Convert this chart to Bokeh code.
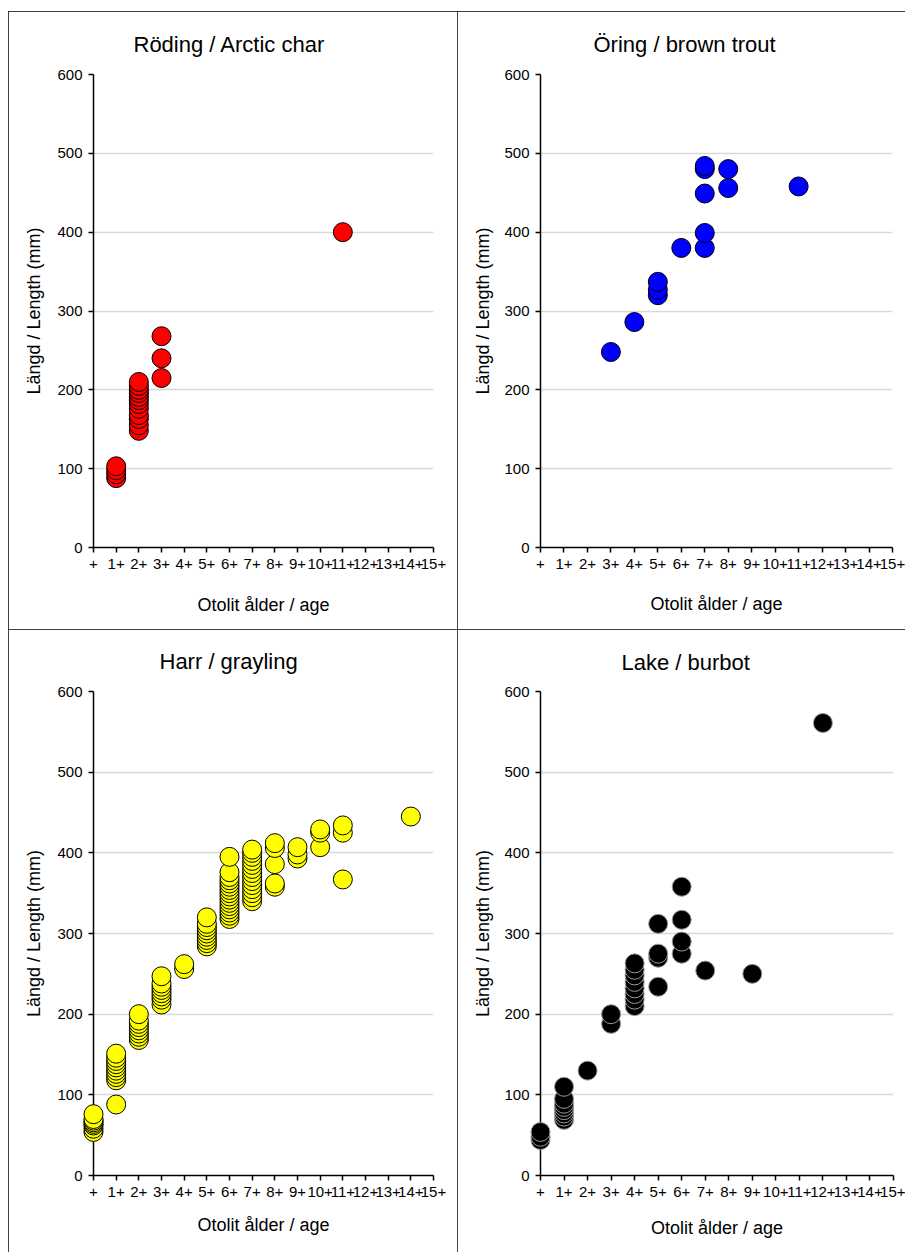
from bokeh.plotting import figure
from bokeh.layouts import column, row
from bokeh.models import Range1d, FixedTicker
from bokeh.embed import file_html
from bokeh.resources import INLINE

# ---------------- data ----------------
age_ticks = [0, 1, 2, 3, 4, 5, 6, 7, 8, 9, 10, 11, 12, 13, 14, 15]
age_tick_labels = ["+", "1+", "2+", "3+", "4+", "5+", "6+", "7+", "8+", "9+",
                   "10+", "11+", "12+", "13+", "14+", "15+"]
length_ticks = [0, 100, 200, 300, 400, 500, 600]

titles = ["Röding / Arctic char", "Öring / brown trout", "Harr / grayling", "Lake / burbot"]
x_label = "Otolit ålder / age"
y_label = "Längd / Length (mm)"

# Röding / Arctic char
char_age = [1, 1, 1, 1,
            2, 2, 2, 2, 2, 2, 2, 2, 2, 2, 2, 2,
            3, 3, 3,
            11]
char_len = [88, 93, 98, 103,
            148, 155, 163, 168, 176, 182, 187, 191, 196, 200, 205, 210,
            215, 240, 268,
            400]

# Öring / brown trout
trout_age = [3, 4, 5, 5, 5, 6, 7, 7, 7, 7, 7, 8, 8, 11]
trout_len = [248, 286, 320, 327, 337, 380, 380, 399, 449, 480, 484, 456, 480, 458]

# Harr / grayling
grayling_age = [0, 0, 0, 0, 0, 0, 0, 0,
                1, 1, 1, 1, 1, 1, 1, 1, 1, 1,
                2, 2, 2, 2, 2, 2, 2, 2,
                3, 3, 3, 3, 3, 3, 3, 3,
                4, 4,
                5, 5, 5, 5, 5, 5, 5, 5, 5,
                6, 6, 6, 6, 6, 6, 6, 6, 6, 6, 6, 6, 6, 6, 6, 6,
                7, 7, 7, 7, 7, 7, 7, 7, 7, 7, 7, 7, 7, 7,
                8, 8, 8, 8, 8,
                9, 9, 9,
                10, 10, 10,
                11, 11, 11,
                14]
grayling_len = [54, 58, 62, 64, 66, 68, 70, 76,
                88, 118, 122, 126, 130, 134, 138, 142, 146, 151,
                168, 172, 176, 180, 184, 188, 192, 200,
                212, 218, 222, 226, 230, 234, 238, 247,
                256, 262,
                284, 288, 292, 296, 300, 304, 308, 312, 320,
                318, 322, 326, 330, 334, 338, 342, 346, 350, 354, 358, 362, 366, 370, 376, 395,
                340, 345, 350, 355, 360, 365, 370, 375, 380, 385, 390, 395, 400, 404,
                358, 362, 386, 406, 412,
                393, 398, 407,
                407, 425, 429,
                367, 425, 434,
                445]

# Lake / burbot
burbot_age = [0, 0, 0,
              1, 1, 1, 1, 1, 1, 1, 1,
              2,
              3, 3,
              4, 4, 4, 4, 4, 4, 4, 4,
              5, 5, 5, 5,
              6, 6, 6, 6,
              7, 9, 12]
burbot_len = [44, 48, 54,
              69, 73, 77, 81, 85, 89, 95, 110,
              130,
              188, 200,
              210, 218, 225, 232, 240, 248, 255, 263,
              234, 270, 275, 312,
              275, 290, 317, 358,
              254, 250, 561]

FONT = "Liberation Sans"


def make_panel(title, ages, lengths, fill, line, width, height, borders,
               title_offset, title_standoff, xlab_standoff, ylab_standoff, margin):
    left, right, top, bottom = borders
    p = figure(width=width, height=height,
               x_range=Range1d(0, 15), y_range=Range1d(0, 600),
               output_backend="svg", toolbar_location=None,
               min_border_left=left, min_border_right=right,
               min_border_top=top, min_border_bottom=bottom)
    p.margin = margin
    p.styles = {"outline": "1px solid black", "outline-offset": "-1px"}
    p.background_fill_color = "white"
    p.border_fill_color = "white"
    p.outline_line_color = None

    p.title.text = title
    p.title.align = "left"
    p.title.vertical_align = "bottom"
    p.title.offset = title_offset
    p.title.standoff = title_standoff
    p.title.text_line_height = 0.8
    p.title.text_font = FONT
    p.title.text_font_style = "normal"
    p.title.text_font_size = "22px"
    p.title.text_color = "black"

    p.xaxis.ticker = FixedTicker(ticks=age_ticks)
    p.xaxis.major_label_overrides = {t: l for t, l in zip(age_ticks, age_tick_labels)}
    p.yaxis.ticker = FixedTicker(ticks=length_ticks)
    p.xaxis.axis_label = x_label
    p.yaxis.axis_label = y_label
    p.xaxis.axis_label_standoff = xlab_standoff
    p.yaxis.axis_label_standoff = ylab_standoff
    for ax in (p.xaxis, p.yaxis):
        ax.axis_label_text_font = FONT
        ax.axis_label_text_font_style = "normal"
        ax.axis_label_text_font_size = "18px"
        ax.axis_label_text_color = "black"
        ax.major_label_text_font = FONT
        ax.major_label_text_font_size = "15px"
        ax.major_label_text_color = "black"
        ax.major_label_standoff = 6
        ax.major_tick_out = 5
        ax.major_tick_in = 0
        ax.minor_tick_out = 0
        ax.minor_tick_in = 0
        ax.axis_line_color = "black"
        ax.axis_line_width = 1.5
        ax.major_tick_line_color = "black"
        ax.major_tick_line_width = 1.5

    p.xgrid.visible = False
    p.ygrid.grid_line_color = "#d9d9d9"
    p.ygrid.grid_line_width = 1.5

    p.scatter(ages, lengths, size=19, marker="circle",
              fill_color=fill, line_color=line, line_width=1, level="overlay")
    return p


p1 = make_panel(titles[0], char_age, char_len, "#ff0000", "black",
                449, 618, (85, 24, 60, 82), 40, 35, 23, 10, (11, 0, 0, 8))
p2 = make_panel(titles[1], trout_age, trout_len, "#0000ff", "black",
                448, 618, (83, 13, 62, 81), 53, 36, 22, 8, (11, 0, 0, 0))
p3 = make_panel(titles[2], grayling_age, grayling_len, "#ffff00", "black",
                449, 623, (85, 24, 61, 76), 66, 35, 15, 10, (0, 0, 0, 8))
p4 = make_panel(titles[3], burbot_age, burbot_len, "black", "#9a9a9a",
                448, 623, (83, 12, 58, 77), 81, 34, 18, 8, (0, 0, 0, 0))

layout = column(row(p1, p2, spacing=0), row(p3, p4, spacing=0), spacing=0)

with open("out.html", "w") as f:
    f.write(file_html(layout, INLINE))
